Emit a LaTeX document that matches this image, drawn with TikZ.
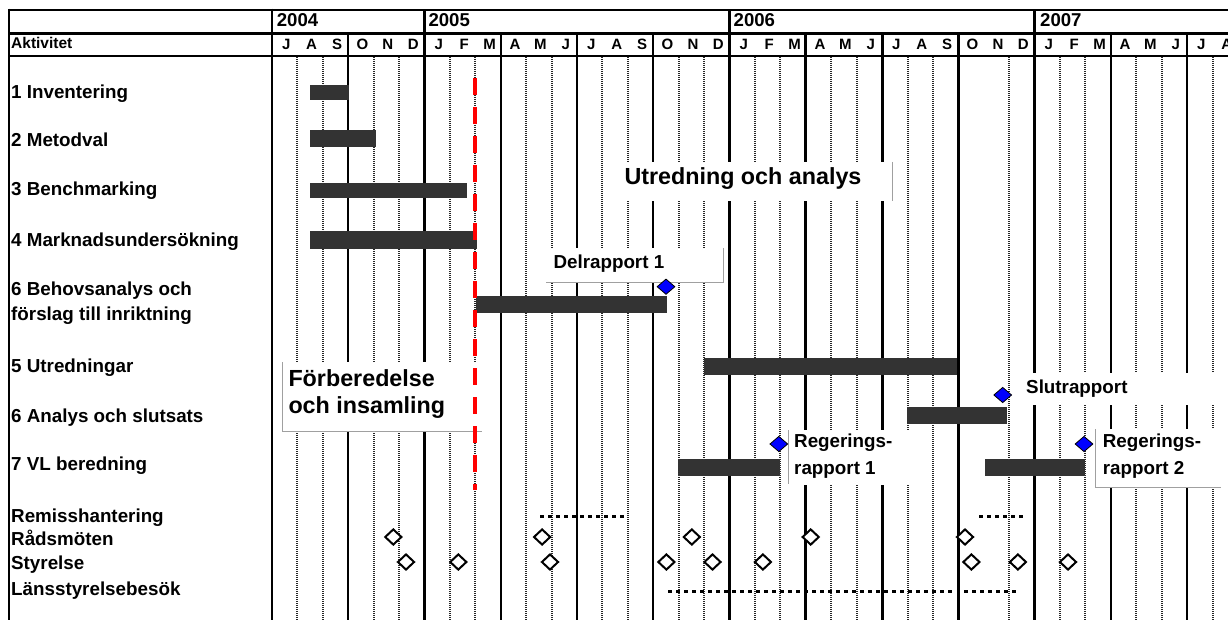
\documentclass[tikz,border=0pt]{standalone}
\usepackage{fontspec}
\setmainfont{Liberation Sans}
\usetikzlibrary{shapes.geometric}
\definecolor{bargray}{HTML}{333333}
\definecolor{msblue}{HTML}{0000FF}
\definecolor{boxgray}{HTML}{A0A0A0}
\definecolor{redmark}{HTML}{FF0000}
\tikzset{
 lbl/.style={anchor=base west, inner sep=0pt, font=\fontsize{18.8}{22}\selectfont\bfseries},
 biglbl/.style={anchor=base west, inner sep=0pt, font=\fontsize{23.3}{28}\selectfont\bfseries},
 monthlbl/.style={anchor=base, inner sep=0pt, font=\fontsize{15}{18}\selectfont\bfseries},
 yearlbl/.style={anchor=base west, inner sep=0pt, font=\fontsize{18.6}{22}\selectfont\bfseries},
 headlbl/.style={anchor=base west, inner sep=0pt, font=\fontsize{15.5}{18}\selectfont\bfseries},
 bar/.style={fill=bargray, draw=none},
 milestone/.style={diamond, draw=black, line width=0.8pt, fill=msblue, minimum width=18pt, minimum height=15.5pt, inner sep=0pt},
 meeting/.style={diamond, draw=black, line width=2pt, fill=white, minimum width=17pt, minimum height=16pt, inner sep=0pt},
 monthline/.style={line width=2pt, black!85, dash pattern=on 1pt off 1pt},
 dotline/.style={line width=3pt, black, dash pattern=on 4pt off 4pt},
 labelbox/.style={fill=white, draw=none},
 boxedge/.style={draw=boxgray, line width=1pt},
 redline/.style={redmark, line width=4pt, dash pattern=on 16.7pt off 12.3pt},
 frameline/.style={line width=2.7pt, black},
}
\begin{document}
\begin{tikzpicture}[x=1pt,y=-1pt]
\useasboundingbox (0,0) rectangle (1228,620);
\fill[white] (0,0) rectangle (1228,620);
\begin{scope}
\clip (0,0) rectangle (1228,620);
% month lines in the body
\foreach \m in {1,2,4,5,7,8,10,11,13,14,16,17,19,20,22,23,25,26,29,31,32,34,35,37}
  \draw[monthline] ({272+25.42*\m},57) -- ({272+25.42*\m},620);
% quarter lines (month row + body)
\foreach \q/\w in {1/2.2,3/2,4/1.3,5/1.6,7/3,8/3,9/3,11/2.2,12/2.2}
  \draw[line width=\w pt] ({272+76.25*\q},33.5) -- ({272+76.25*\q},620);
% year lines (all rows)
\foreach \q/\w in {2/2.3,6/2.3,10/3.3}
  \draw[line width=\w pt] ({272+76.25*\q},10) -- ({272+76.25*\q},620);
% frame and header lines
\draw[frameline] (9,10) -- (1228,10);
\draw[frameline] (9,33.5) -- (1228,33.5);
\draw[frameline] (9,56) -- (1228,56);
\draw[frameline] (9,8.7) -- (9,620);
\draw[frameline] (272,8.7) -- (272,620);

% label boxes
\fill[labelbox] (617,162) rectangle (892,201.5);
\draw[boxedge] (892,162) -- (892,201.5);
\fill[labelbox] (546,248) rectangle (723,282);
\draw[boxedge] (723,248) -- (723,282) -- (546,282);
\fill[labelbox] (282,362) rectangle (481.7,431);
\draw[boxedge] (282,362) -- (282,431) -- (481.7,431);
\fill[labelbox] (1019,373) rectangle (1226,405);
\fill[labelbox] (788,430) rectangle (913,485);
\draw[boxedge] (788.3,430) -- (788.3,483.5);
\fill[labelbox] (1095.7,429) rectangle (1221,487);
\draw[boxedge] (1095.7,429) -- (1095.7,487) -- (1221,487);

% bars
\fill[bar] (310,85) rectangle (349,99.7);
\fill[bar] (310,130) rectangle (376,146.7);
\fill[bar] (310,183) rectangle (466.7,197.7);
\fill[bar] (310,231) rectangle (476.7,248.7);
\fill[bar] (476,296) rectangle (666.7,312.7);
\fill[bar] (703.5,358) rectangle (957,375);
\fill[bar] (907.3,406.7) rectangle (1006.7,424.3);
\fill[bar] (678,459) rectangle (779.6,476);
\fill[bar] (985,459) rectangle (1085,476);

% dotted lines
\draw[dotline] (540,516) -- (627,516);
\draw[dotline] (979,516) -- (1024,516);
\draw[dotline] (668,591) -- (953,591);
\draw[dotline] (964,591) -- (1018,591);

% red dashed line
\draw[redline] (475,78.3) -- (475,490);

% milestones
\node[milestone] (m1) at (666,286.7) {};
\node[milestone] (m2) at (1002.7,395) {};
\node[milestone] (m3) at (778.8,444) {};
\node[milestone] (m4) at (1084,444) {};

% meetings
\foreach \x [count=\i] in {393.3,542.1,691.8,810.7,965}
  \node[meeting] (rad\i) at (\x,537) {};
\foreach \x [count=\i] in {406,458.3,550,666.4,712.5,762.9,971.4,1017.9,1068}
  \node[meeting] (sty\i) at (\x,562) {};

% header texts
\node[headlbl] (akt) at (11,49) {Aktivitet};
\node[yearlbl] (y2004) at (276.7,26.7) {2004};
\node[yearlbl] (y2005) at (428.3,26.7) {2005};
\node[yearlbl] (y2006) at (733.5,26.7) {2006};
\node[yearlbl] (y2007) at (1040,26.7) {2007};
\foreach \l [count=\i from 0] in {J,A,S,O,N,D,J,F,M,A,M,J,J,A,S,O,N,D,J,F,M,A,M,J,J,A,S,O,N,D,J,F,M,A,M,J,J,A}
  \node[monthlbl] (mo\i) at ({272+25.42*\i+14.2},50) {\l};

% activity labels
\node[lbl] (a1) at (11,98.3) {1 Inventering};
\node[lbl] (a2) at (11,147) {2 Metodval};
\node[lbl] (a3) at (11,196) {3 Benchmarking};
\node[lbl] (a4) at (11,247) {4 Marknadsundersökning};
\node[lbl] (a6a) at (11,295.3) {6 Behovsanalys och};
\node[lbl] (a6b) at (11,320.3) {förslag till inriktning};
\node[lbl] (a5) at (11,372) {5 Utredningar};
\node[lbl] (a6c) at (11,422) {6 Analys och slutsats};
\node[lbl] (a7) at (11,470.3) {7 VL beredning};
\node[lbl] (r1) at (11,522) {Remisshantering};
\node[lbl] (r2) at (11,545.3) {Rådsmöten};
\node[lbl] (r3) at (11,569.7) {Styrelse};
\node[lbl] (r4) at (11,595.3) {Länsstyrelsebesök};

% box texts
\node[biglbl] (utr) at (624.3,185) {Utredning och analys};
\node[biglbl] (forb1) at (288.3,386) {Förberedelse};
\node[biglbl] (forb2) at (288.3,413.5) {och insamling};
\node[lbl] (del) at (553.3,268.3) {Delrapport 1};
\node[lbl] (slut) at (1026,393.3) {Slutrapport};
\node[lbl] (reg1a) at (794,447.3) {Regerings-};
\node[lbl] (reg1b) at (794,474) {rapport 1};
\node[lbl] (reg2a) at (1102.7,447.3) {Regerings-};
\node[lbl] (reg2b) at (1102.7,474) {rapport 2};
\end{scope}
\end{tikzpicture}
\end{document}
